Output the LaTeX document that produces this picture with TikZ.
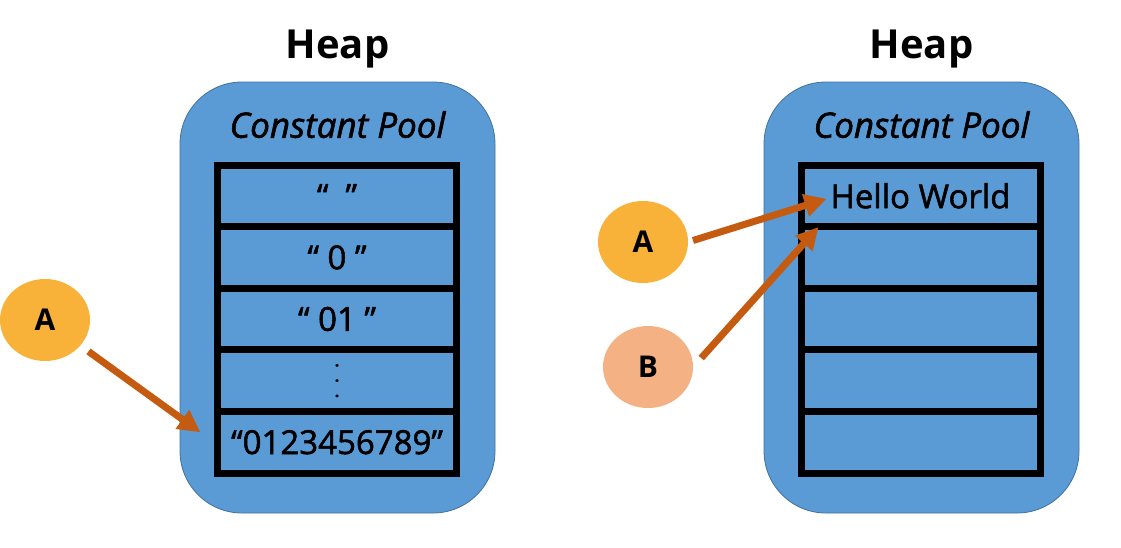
\documentclass[tikz,border=0pt]{standalone}
\usepackage{fontspec}
\setmainfont{Open Sans}
\newfontfamily\medfont[FakeBold=1.6]{Open Sans}
\usetikzlibrary{matrix,positioning,arrows.meta,shapes.geometric,calc}
\definecolor{heapblue}{HTML}{5B9BD5}
\definecolor{heapedge}{HTML}{41719C}
\definecolor{refA}{HTML}{F8B23A}
\definecolor{refB}{HTML}{F4B183}
\definecolor{ptrc}{HTML}{C55A11}

\begin{document}
\begin{tikzpicture}[x=1pt,y=-1pt,
  heap/.style={draw=heapedge,fill=heapblue,rounded corners=62pt,
    minimum width=315pt,minimum height=431pt,line width=0.8pt},
  pmat/.style={matrix of nodes,nodes in empty cells,inner sep=0pt,
    nodes={draw,line width=7pt,minimum width=239pt,minimum height=61.6pt,
      inner sep=0pt,anchor=center,font=\medfont\fontsize{33}{35}\selectfont},
    row sep=-7pt},
  ref/.style={ellipse,minimum width=90pt,minimum height=82pt,inner sep=0pt,
    font=\bfseries\fontsize{30}{32}\selectfont},
  ptr/.style={draw=ptrc,line width=7pt,-{Triangle[width=22pt,length=22pt]}},
  title/.style={font=\bfseries\fontsize{40}{44}\selectfont},
  pool/.style={font=\medfont\itshape\fontsize{35}{37}\selectfont}]
 \useasboundingbox (0,0) rectangle (1121,547);
 % heaps
 \node[heap] (HeapL) at (337.5,297.5) {};
 \node[heap] (HeapR) at (921.5,297.5) {};
 \node[title,above=10pt of HeapL] (HeapLt) {Heap};
 \node[title,above=10pt of HeapR] (HeapRt) {Heap};
 \node[pool,below=26pt of HeapL.north] (PoolLt) {Constant Pool};
 \node[pool,below=26pt of HeapR.north] (PoolRt) {Constant Pool};
 % pools
 \node[pmat] (PoolL) at (337,319)
  {“~~” \\ “ 0 ” \\ “ 01 ” \\
   \rotatebox{90}{\fontsize{20}{20}\selectfont.\hspace{10pt}.\hspace{10pt}.} \\
   “0123456789” \\};
 \node[pmat] (PoolR) at (920.5,319)
  {Hello World \\ \\ \\ \\ \\};
 % references
 \node[ref,fill=refA] (AL) at (45,320) {A};
 \node[ref,fill=refA] (AR) at (643,242) {A};
 \node[ref,fill=refB] (BR) at (648,367) {B};
 \draw[ptr,shorten <=10pt,shorten >=17pt] (AL) -- (PoolL-5-1.west);
 \draw[ptr,shorten <=5pt] (AR.east) -- ($(PoolR-1-1.west)+(29,3)$);
 \draw[ptr,shorten <=12pt] (BR.east) -- ($(PoolR-1-1.south west)+(21,-3)$);
\end{tikzpicture}
\end{document}
